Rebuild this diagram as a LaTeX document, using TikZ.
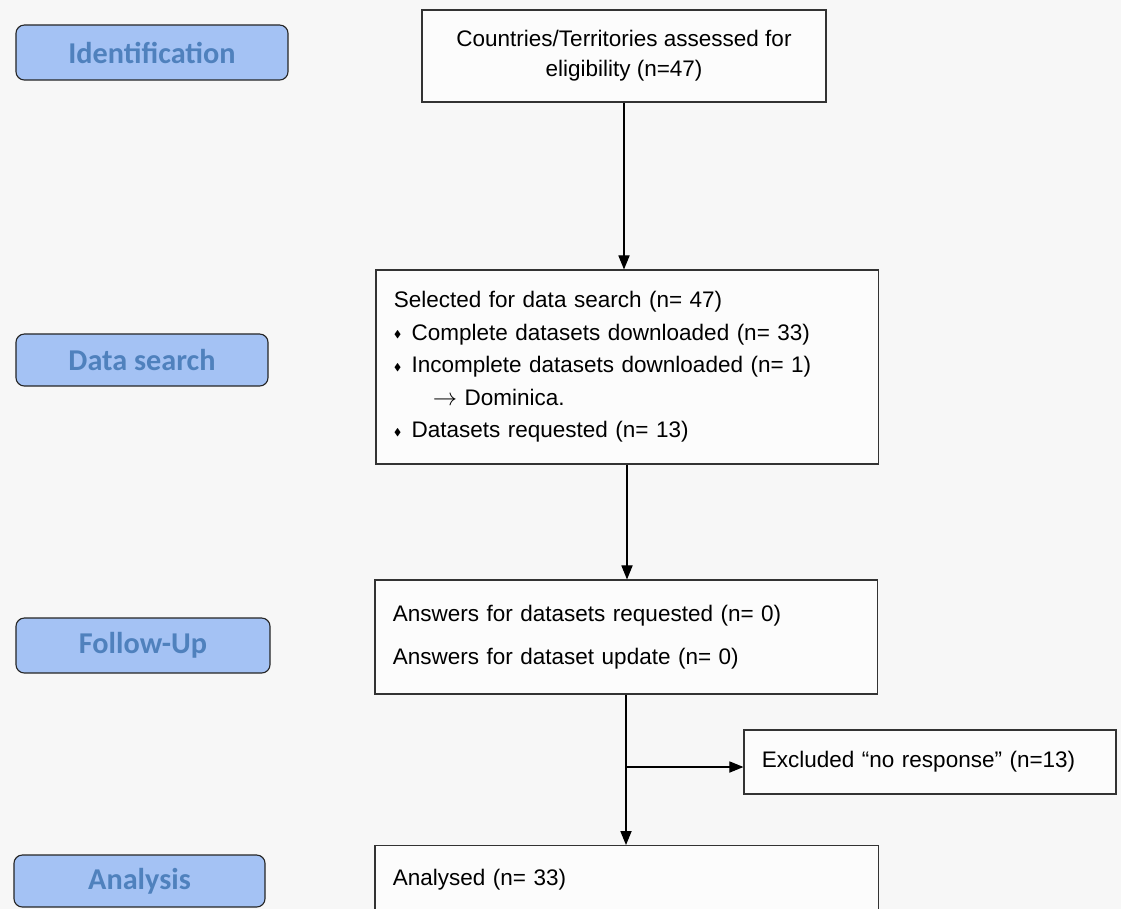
\documentclass[tikz,border=0pt]{standalone}
\usepackage{amssymb}
\usepackage{fontspec}
\setmainfont{Liberation Sans}
\newfontfamily\stagefont{Carlito}
\usepackage{tikz}
\usetikzlibrary{arrows.meta}
\definecolor{stagefill}{HTML}{A4C2F4}
\definecolor{stagetext}{HTML}{4F81BD}
\definecolor{paper}{HTML}{F7F7F7}
\newcommand{\dmd}{\raisebox{0.12em}{\scriptsize$\blacklozenge$}\hspace{0.45em}}

\begin{document}
\begin{tikzpicture}[
  x=0.025cm, y=-0.025cm,
  stage/.style={draw=black!85, rounded corners=6pt, fill=stagefill, text=stagetext, font=\stagefont\fontsize{21.5}{24}\selectfont\bfseries, thick},
  flowbox/.style={draw=black!80, fill=white!60!paper, thick, font=\fontsize{16}{21.3}\selectfont, inner xsep=0.45cm},
  arrow/.style={-{Triangle[length=3.5mm,width=2.8mm]}, thick}
]
\fill[paper] (0,0) rectangle (1121,909);
\useasboundingbox (0,0) rectangle (1121,909);
\clip (0,0) rectangle (1121,909);
% stages on the left
\node[stage, minimum width=6.8cm, minimum height=1.375cm] (ident) at (152,52.5) {Identification};
\node[stage, minimum width=6.3cm, minimum height=1.3cm] (search) at (142,360) {Data search};
\node[stage, minimum width=6.35cm, minimum height=1.375cm] (follow) at (143,645.5) {Follow-Up};
\node[stage, minimum width=6.275cm, minimum height=1.3cm] (analysis) at (139.5,881) {Analysis};
% flow boxes
\node[flowbox, minimum width=10.1cm, minimum height=2.3cm, align=center] (countries) at (624,56) {Countries/Territories assessed for\\eligibility (n=47)};
\node[flowbox, minimum width=12.55cm, minimum height=4.85cm, text width=11.65cm, align=left, font=\fontsize{16}{23.1}\selectfont] (selected) at (627,367) {Selected for data search (n= 47)\\
\dmd Complete datasets downloaded (n= 33)\\
\dmd Incomplete datasets downloaded (n= 1)\\
\hspace*{1.73em}$\rightarrow$ Dominica.\\
\dmd Datasets requested (n= 13)};
\node[flowbox, minimum width=12.55cm, minimum height=2.85cm, text width=11.65cm, align=left] (answers) at (626,637) {Answers for datasets requested (n= 0)\\[9.3pt]
Answers for dataset update (n= 0)};
\node[flowbox, minimum width=9.3cm, minimum height=1.6cm, text width=8.4cm, align=left] (excluded) at (930,762) {Excluded ``no response'' (n=13)};
\node[flowbox, minimum width=12.575cm, inner ysep=0.6cm, text width=11.675cm, align=left, anchor=north] (analysed) at (626.5,845) {Analysed (n= 33)};
\coordinate (split) at (627,767);
% connectors
\draw[arrow] (countries.south) -- (countries.south |- selected.north);
\draw[arrow] (selected.south) -- (selected.south |- answers.north);
\draw[arrow] (answers.south) -- (answers.south |- analysed.north);
\draw[arrow] (split) -- (split -| excluded.west);
\end{tikzpicture}
\end{document}
